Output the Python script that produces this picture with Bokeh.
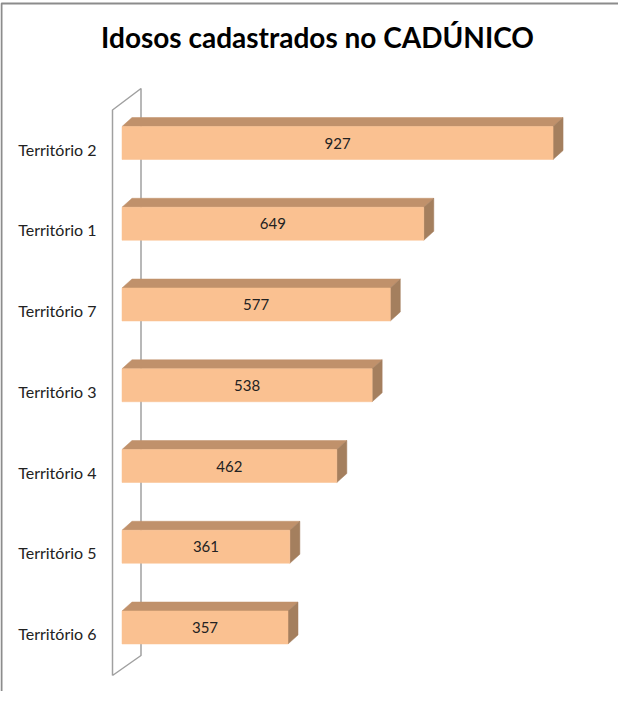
from bokeh.plotting import figure
from bokeh.models import Range1d, ColumnDataSource
from bokeh.core.properties import value
from bokeh.embed import file_html
from bokeh.resources import INLINE

# ---- data ----
categories = ["Território 2", "Território 1", "Território 7", "Território 3",
              "Território 4", "Território 5", "Território 6"]
values = [927, 649, 577, 538, 462, 361, 357]
title_text = "Idosos cadastrados no CADÚNICO"

# ---- layout constants (page pixels) ----
W, H = 618, 691
X0_PAGE = 129.5      # page x of value 0
KX = 0.465           # px per unit
Y0_PAGE = 150.5      # page y of first category centre
KY = 80.75           # px per category


def dx(page_x):
    return (page_x - X0_PAGE) / KX


def dy(page_y):
    return (page_y - Y0_PAGE) / KY


p = figure(width=W, height=H, output_backend="svg", toolbar_location=None,
           x_range=Range1d(dx(8), dx(8 + W)), y_range=Range1d(dy(8 + H), dy(8)),
           min_border=0, outline_line_color=None)
p.axis.visible = False
p.grid.visible = False
p.background_fill_color = "white"
p.border_fill_color = "white"

# outer chart frame (cropped on right and bottom)
frame_col = "#8c8c8c"
p.line([dx(9), dx(9), dx(700)], [dy(760), dy(11), dy(11)], line_color=frame_col, line_width=2)

# axis wall
wall_col = "#a0a0a0"
p.line([dx(120), dx(120), dx(148.5), dx(148.5), dx(120)],
       [dy(683), dy(117.5), dy(96), dy(663), dy(683)], line_color=wall_col, line_width=1.5)

# bars
n = len(values)
ys = list(range(n))
h = 33 / KY
ddx = 10 / KX
ddy = 9 / KY
front_col = "#FAC191"
top_col = "#C0916B"
side_col = "#A47F5E"

top_xs, top_ys, side_xs, side_ys = [], [], [], []
for v, y in zip(values, ys):
    t = y - h / 2
    b = y + h / 2
    top_xs.append([0, v, v + ddx, ddx])
    top_ys.append([t, t, t - ddy, t - ddy])
    side_xs.append([v, v + ddx, v + ddx, v])
    side_ys.append([t, t - ddy, b - ddy, b])

p.patches(top_xs, top_ys, fill_color=top_col, line_color=top_col, line_width=0.5)
p.patches(side_xs, side_ys, fill_color=side_col, line_color=side_col, line_width=0.5)
src = ColumnDataSource(dict(left=[0] * n, right=values,
                            top=[y - h / 2 for y in ys], bottom=[y + h / 2 for y in ys],
                            mid=[v / 2 for v in values], y=ys,
                            lab=[str(v) for v in values], cat=categories,
                            ly=[y + 6 / KY for y in ys], lx=[dx(104)] * n))
p.quad(left="left", right="right", top="top", bottom="bottom", source=src,
       fill_color=front_col, line_color=front_col, line_width=0.5)

# value labels
p.text(x="mid", y="y", text="lab", source=src, text_align="center", text_baseline="middle",
       text_font=value("Lato"), text_font_size="15px", text_color="#222222")

# category labels
p.text(x="lx", y="ly", text="cat", source=src, text_align="right", text_baseline="middle",
       text_font=value("Lato"), text_font_size="16px", text_color="#222222")

# title
p.text(x=[dx(325)], y=[dy(44)], text=[title_text], text_align="center", text_baseline="middle",
       text_font=value("Lato"), text_font_style="bold", text_font_size="28px", text_color="#000000")

open("out.html", "w").write(file_html(p, INLINE))
